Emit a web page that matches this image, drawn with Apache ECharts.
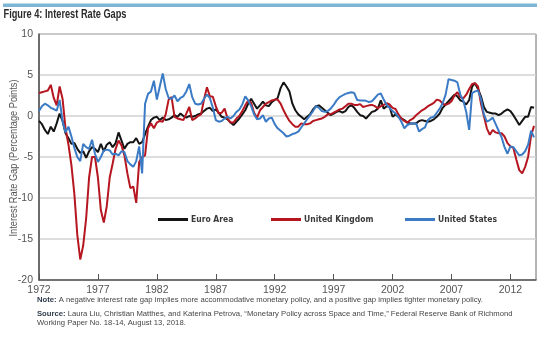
<!DOCTYPE html>
<html>
<head>
<meta charset="utf-8">
<script src="https://cdn.jsdelivr.net/npm/echarts@6/dist/echarts.min.js"></script>
<style>
  html, body { margin: 0; padding: 0; background: #fff; }
  #chart { width: 540px; height: 342px; }
</style>
</head>
<body>
<div id="chart"></div>
<script>
// Quarterly interest rate gaps (percentage points), 1972Q1 - 2014Q1
const startYear = 1972;
const quartersPerYear = 4;

const euroArea = [
  -0.6, -1.0, -1.7, -2.2, -1.3, -1.9, -0.9, 0.3, -0.6, -2.1,
  -2.7, -3.4, -3.3, -4.0, -4.5, -4.3, -5.1, -4.3, -3.8, -4.0,
  -4.4, -3.4, -4.3, -3.5, -3.2, -3.8, -3.3, -2.0, -3.0, -4.0,
  -3.4, -3.2, -3.2, -2.7, -3.4, -3.2, -2.2, -1.3, -0.5, -0.2,
  -0.1, -0.5, -0.2, -0.5, -0.4, -0.2, 0.1, -0.1, 0.3, 0.0,
  -0.2, 0.0, -0.1, 0.0, 0.2, 0.3, 0.6, 0.9, 1.0, 0.6,
  0.8, 0.4, -0.1, -0.2, -0.4, -0.8, -1.1, -0.7, -0.3, 0.2,
  0.7, 1.5, 2.1, 1.5, 0.9, 1.3, 1.75, 1.3, 1.2, 1.7,
  1.95, 2.2, 3.4, 4.1, 3.6, 3.0, 1.5, 0.7, 0.2, -0.1,
  -0.4, -0.1, 0.2, 0.8, 1.2, 1.3, 1.0, 0.7, 0.4, 0.1,
  0.3, 0.5, 0.6, 0.4, 0.6, 1.1, 1.3, 1.0, 0.5, 0.1,
  0.0, -0.3, 0.1, 0.5, 0.6, 0.9, 1.9, 0.9, 1.2, 1.1,
  -0.1, 0.2, -0.1, -0.3, -0.5, -0.8, -0.9, -0.9, -0.9, -0.6,
  -0.5, -0.6, -0.7, -0.6, -0.4, -0.1, 0.3, 1.0, 1.4, 1.8,
  2.2, 2.6, 2.4, 1.9, 1.75, 1.4, 1.95, 3.6, 4.0, 3.3,
  2.4, 1.1, 0.5, 0.4, 0.3, 0.3, 0.1, 0.3, 0.6, 0.8,
  0.6, 0.1, -0.5, -1.1, -0.6, -0.1, -0.1, 1.1, 1.0
];

const unitedKingdom = [
  2.8, 2.9, 3.0, 3.1, 3.8, 2.2, 1.3, 3.6, 2.1, -1.5,
  -3.5, -6.0, -9.5, -14.5, -17.5, -15.8, -12.5, -7.5, -5.0, -5.0,
  -7.5, -11.5, -13.0, -11.0, -7.5, -5.8, -4.0, -3.0, -3.6, -4.8,
  -7.0, -8.8, -8.6, -10.6, -5.6, -5.0, -4.8, -1.5, -0.9, -1.5,
  -0.8, -0.6, -0.7, 0.2, 2.0, 2.3, -0.1, -0.3, -0.4, -0.5,
  0.3, 1.1, -0.5, -0.3, 0.0, 0.2, 2.0, 3.5, 2.4, 2.35,
  1.2, 0.3, 0.4, 0.9, -0.3, -0.8, -0.8, -0.3, 0.0, 0.6,
  1.3, 1.9, 1.6, 0.4, -0.2, 0.7, 1.1, 1.5, 1.7, 1.9,
  2.0, 2.0, 1.5, 0.7, 0.0, -0.6, -1.0, -1.3, -1.3, -0.9,
  -1.0, -1.0, -0.9, -0.6, -0.5, -0.4, -0.3, -0.1, 0.2, 0.2,
  0.4, 0.6, 0.8, 0.9, 1.2, 1.5, 1.5, 1.35, 1.35, 1.45,
  1.1, 1.2, 1.3, 1.35, 1.2, 0.95, 1.2, 1.35, 1.55, 1.4,
  1.0, 0.85, 0.2, -0.3, -0.6, -0.8, -0.5, -0.3, 0.1, 0.4,
  0.7, 0.9, 1.2, 1.4, 1.6, 2.0, 1.9, 1.5, 1.35, 1.5,
  1.8, 2.5, 2.9, 2.3, 2.15, 2.6, 3.3, 3.9, 4.0, 3.6,
  1.5, 0.0, -1.5, -2.3, -1.7, -2.0, -2.1, -2.1, -2.5, -3.3,
  -3.7, -3.9, -5.3, -6.6, -7.0, -6.2, -5.0, -2.4, -1.2
];

const unitedStates = [
  0.6, 1.2, 1.5, 1.3, 1.0, 0.85, 0.65, 1.95, -0.6, -2.0,
  -1.3, -2.5, -3.9, -5.0, -5.5, -3.4, -3.8, -4.0, -2.9, -4.6,
  -5.6, -5.0, -4.2, -4.1, -4.2, -4.7, -4.6, -4.8, -4.3, -4.4,
  -5.5, -5.9, -6.2, -5.5, -3.7, -7.0, 1.5, 2.7, 3.0, 4.3,
  2.0, 3.6, 5.2, 3.3, 2.2, 2.1, 2.5, 1.8, 2.2, 2.4,
  3.0, 3.9, 2.3, 1.5, 1.4, 1.5, 2.1, 2.6, 2.2, 1.0,
  -0.5, -0.7, -0.6, -0.3, -0.1, -0.3, 0.0, 0.5, 0.8, 1.4,
  2.4, 1.9, 1.2, 0.2, -0.4, -0.3, 0.1, -0.7, -0.3, -0.2,
  -1.0, -1.5, -1.8, -2.1, -2.5, -2.4, -2.2, -2.1, -1.9, -1.4,
  -0.9, -0.4, 0.1, 0.6, 1.2, 1.0, 0.6, 0.5, 0.6, 0.9,
  1.35, 1.9, 2.3, 2.5, 2.7, 2.8, 2.9, 2.8, 1.95, 1.9,
  1.9, 1.85, 1.7, 1.8, 2.2, 2.6, 2.75, 2.0, 1.35, 1.0,
  0.6, 0.3, -0.1, -0.7, -1.5, -1.1, -0.95, -0.9, -0.9, -1.9,
  -1.6, -1.4, -0.5, -0.2, -0.1, 0.4, 0.9, 1.55, 2.6, 4.5,
  4.4, 4.3, 4.1, 2.6, 1.9, 0.5, -1.7, 2.8, 3.0, 3.1,
  2.1, 0.2, -0.7, -0.5, -0.2, -1.0, -1.8, -2.6, -3.8, -4.6,
  -3.7, -3.8, -4.3, -4.8, -4.7, -4.3, -3.5, -1.8, -2.6
];

const seriesNames = ['Euro Area', 'United Kingdom', 'United States'];
const seriesColors = ['#141414', '#b5161f', '#3b7bc6'];
const yTicks = { min: -20, max: 10, step: 5 };
const xTickStep = 5;
const xSpanYears = 42.17;

const titleText = 'Figure 4: Interest Rate Gaps';
const yAxisTitle = 'Interest Rate Gap (Percentage Points)';
const noteLabel = 'Note:';
const noteText = ' A negative interest rate gap implies more accommodative monetary policy, and a positive gap implies tighter monetary policy.';
const sourceLabel = 'Source:';
const sourceText1 = ' Laura Liu, Christian Matthes, and Katerina Petrova, \u201cMonetary Policy across Space and Time,\u201d Federal Reserve Bank of Richmond';
const sourceText2 = 'Working Paper No. 18-14, August 13, 2018.';

// pair each value with its time offset (years since 1972)
function toPoints(values) {
  return values.map((v, i) => [i / quartersPerYear, v]);
}

const sansFont = '"Liberation Sans", Arial, sans-serif';
const condFont = '"DejaVu Sans Condensed", "Liberation Sans", sans-serif';

// text width helper, used to condense headline, axis title and footnotes
const measureCtx = document.createElement('canvas').getContext('2d');
function textWidth(str, font) {
  measureCtx.font = font;
  return measureCtx.measureText(str).width;
}

const titleFont = 'bold 12.5px "Liberation Sans", Arial, sans-serif';
const titleScale = 123 / textWidth(titleText, titleFont);

const yTitleFont = '10.5px "Liberation Sans", Arial, sans-serif';
const yTitleScale = 157 / textWidth(yAxisTitle, yTitleFont);

const noteFontR = '8px "Liberation Sans", Arial, sans-serif';
const noteFontB = 'bold 8px "Liberation Sans", Arial, sans-serif';
const noteScale = 446 / (textWidth(noteLabel, noteFontB) + textWidth(noteText, noteFontR));

function footLine(label, rest, y) {
  const parts = [];
  let x = 37;
  if (label) {
    parts.push({
      type: 'text', x: x, y: y, scaleX: noteScale,
      style: { text: label, font: noteFontB, fill: '#2f3b4b', verticalAlign: 'middle' }
    });
    x += textWidth(label, noteFontB) * noteScale;
  }
  parts.push({
    type: 'text', x: x, y: y, scaleX: noteScale,
    style: { text: rest, font: noteFontR, fill: '#454545', verticalAlign: 'middle' }
  });
  return parts;
}

const chart = echarts.init(document.getElementById('chart'), null, { renderer: 'canvas' });

const legendLefts = [153, 266, 400];

chart.setOption({
  animation: false,
  backgroundColor: '#ffffff',
  graphic: [
    { type: 'rect', shape: { x: 3, y: 3.5, width: 534, height: 3.5 }, style: { fill: '#7cb6d4' } },
    {
      type: 'text', x: 3.5, y: 14.5, scaleX: titleScale,
      style: { text: titleText, font: titleFont, fill: '#2b2b2b', verticalAlign: 'middle' }
    },
    {
      type: 'text', x: 14, y: 158, rotation: Math.PI / 2, scaleX: yTitleScale,
      style: { text: yAxisTitle, font: yTitleFont, fill: '#555', align: 'center', verticalAlign: 'middle' }
    }
  ]
    .concat(footLine(noteLabel, noteText, 300))
    .concat(footLine(sourceLabel, sourceText1, 313.5))
    .concat(footLine('', sourceText2, 323)),
  legend: seriesNames.map((name, i) => ({
    left: legendLefts[i], top: 210,
    itemWidth: 30, itemHeight: 3,
    icon: 'rect',
    data: [name],
    textStyle: { fontFamily: condFont, fontWeight: 'bold', fontSize: 8.5, color: '#3a3a3a', padding: [0, 0, 0, -2] }
  })),
  grid: { left: 39, right: 4, top: 34, bottom: 62, show: true, borderColor: '#6a6a6a', borderWidth: 1 },
  xAxis: {
    type: 'value',
    min: 0, max: xSpanYears, interval: xTickStep,
    axisLine: { show: true, onZero: false, lineStyle: { color: '#555', width: 1.5 } },
    axisTick: { show: true, inside: true, length: 6, lineStyle: { color: '#555', width: 1 } },
    splitLine: { show: false },
    axisLabel: {
      showMaxLabel: false,
      margin: 5,
      fontFamily: sansFont, fontSize: 10.5, color: '#555',
      formatter: v => (Math.abs(v % xTickStep) < 1e-6 ? String(startYear + v) : '')
    }
  },
  yAxis: {
    type: 'value',
    min: yTicks.min, max: yTicks.max, interval: yTicks.step,
    axisLine: { show: true, lineStyle: { color: '#555', width: 1.5 } },
    axisTick: { show: false },
    splitLine: { show: true, lineStyle: { color: '#d2d2d2', width: 1.5 } },
    axisLabel: { margin: 6, fontFamily: sansFont, fontSize: 10.5, color: '#555' }
  },
  series: [euroArea, unitedKingdom, unitedStates].map((vals, k) => ({
    name: seriesNames[k],
    type: 'line',
    data: toPoints(vals),
    showSymbol: false,
    symbol: 'none',
    color: seriesColors[k],
    lineStyle: { width: 2, color: seriesColors[k] },
    z: 2 + k
  }))
});
</script>
</body>
</html>
